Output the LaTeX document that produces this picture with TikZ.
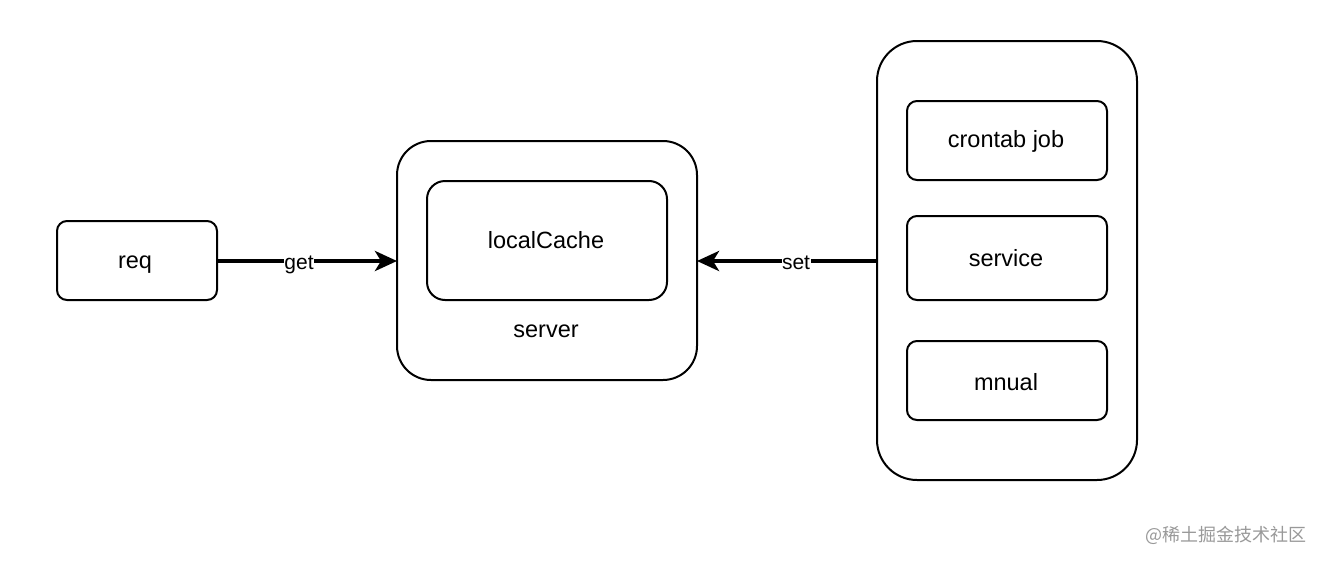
\documentclass[tikz,border=0pt]{standalone}
\usepackage{fontspec}
\setmainfont{Liberation Sans}
\newfontfamily\cjk{Noto Sans CJK SC}
\usetikzlibrary{arrows.meta}
\begin{document}
\begin{tikzpicture}[x=1pt,y=-1pt,
  box/.style={draw=black,line width=2pt,fill=white},
  txt/.style={font=\fontsize{23.5}{27}\selectfont,inner sep=0pt,anchor=base},
  lbl/.style={font=\fontsize{21}{25}\selectfont,fill=white,inner sep=0.5pt,anchor=base},
  conn/.style={line width=4pt,-{Stealth[length=22pt,width=20pt,inset=6pt]}}]
\useasboundingbox[fill=white] (0,0) rectangle (1324,562);
% boxes
\draw[box,rounded corners=10pt] (57,221) rectangle (217,300);
\node[txt] (req) at (135,268) {req};
\coordinate (reqE) at (217,261);
\draw[box,rounded corners=34pt] (397,141) rectangle (697,380);
\coordinate (srvW) at (397,261);
\coordinate (srvE) at (697,261);
\draw[box,rounded corners=18pt] (427,181) rectangle (667,300);
\node[txt] (lc) at (546,248) {localCache};
\node[txt] (srv) at (546,337) {server};
\draw[box,rounded corners=40pt] (877,41) rectangle (1137,480);
\coordinate (grpW) at (877,261);
\draw[box,rounded corners=10pt] (907,101) rectangle (1107,180);
\node[txt] (cj) at (1006,147) {crontab job};
\draw[box,rounded corners=10pt] (907,216) rectangle (1107,300);
\node[txt] (svc) at (1006,266) {service};
\draw[box,rounded corners=10pt] (907,341) rectangle (1107,420);
\node[txt] (mn) at (1006,390) {mnual};
% connectors
\draw[conn] (reqE) -- (srvW);
\node[lbl] (get) at (299,269) {get};
\draw[conn] (grpW) -- (srvE);
\node[lbl] (set) at (796,269) {set};
% watermark
\node[font=\cjk\fontsize{18}{22}\selectfont,text=black!40,inner sep=0pt] (wm) at (1226,535) {@稀土掘金技术社区};
\end{tikzpicture}
\end{document}
